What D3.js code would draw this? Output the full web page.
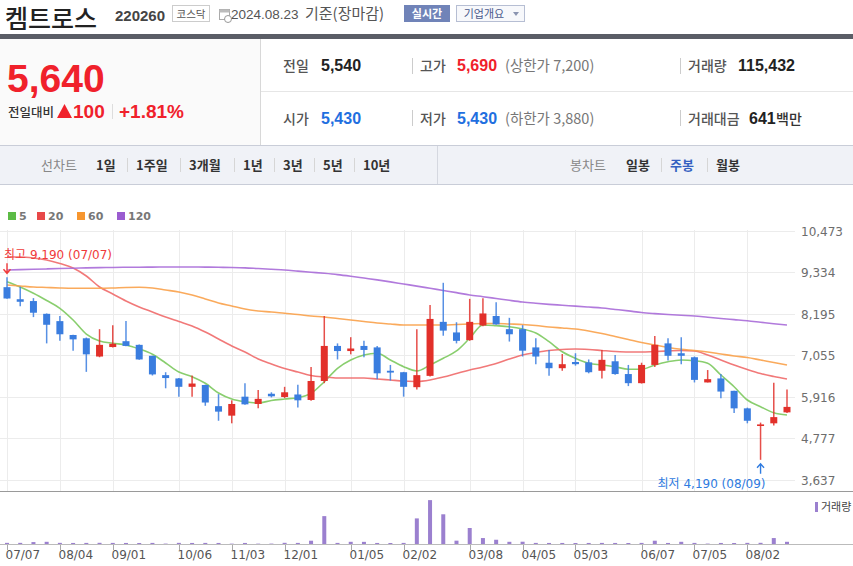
<!DOCTYPE html>
<html><head><meta charset="utf-8">
<script src="https://cdn.jsdelivr.net/npm/d3@7"></script>
<style>
body{margin:0;background:#fff;overflow:hidden}
svg{display:block}
</style>
</head><body>
<svg id="c" width="853" height="566"></svg>
<script>
// ---------- DATA ----------
const dates = ["2023-07-07","2023-07-14","2023-07-21","2023-07-28","2023-08-04","2023-08-11","2023-08-18","2023-08-25","2023-09-01","2023-09-08","2023-09-15","2023-09-22","2023-09-29","2023-10-06","2023-10-13","2023-10-20","2023-10-27","2023-11-03","2023-11-10","2023-11-17","2023-11-24","2023-12-01","2023-12-08","2023-12-15","2023-12-22","2023-12-29","2024-01-05","2024-01-12","2024-01-19","2024-01-26","2024-02-02","2024-02-09","2024-02-16","2024-02-23","2024-03-01","2024-03-08","2024-03-15","2024-03-22","2024-03-29","2024-04-05","2024-04-12","2024-04-19","2024-04-26","2024-05-03","2024-05-10","2024-05-17","2024-05-24","2024-05-31","2024-06-07","2024-06-14","2024-06-21","2024-06-28","2024-07-05","2024-07-12","2024-07-19","2024-07-26","2024-08-02","2024-08-09","2024-08-16","2024-08-23"];
const open  = [8920,8590,8540,8190,7990,7610,7520,7020,7280,7440,7340,7040,6510,6420,6190,6240,5660,5400,5920,5720,6000,5910,5980,5830,6350,7310,7170,7310,7270,6630,6590,6180,6490,7970,7680,7470,7870,8130,7770,7770,7270,6850,6700,6870,6860,6630,6890,6540,6290,6790,7380,7110,7000,6310,6420,6080,5600,5130,5190,5490];
const high  = [9190,8930,8620,8200,8130,7620,7540,7770,7880,7990,7350,7040,6590,6430,6500,6250,5990,5820,6290,6100,6040,6190,6250,6730,8130,7380,7550,7450,7310,6790,6600,7770,8430,9040,7960,8600,8620,8510,8080,7880,7520,7200,7090,7110,6940,7200,7060,6790,6850,7580,7520,7550,7020,6650,6540,6080,5620,5210,6300,6120];
const low   = [8600,8400,8100,7380,7450,7180,6600,7000,7270,7300,6930,6500,6150,5920,5920,5670,5260,5190,5700,5600,5900,5880,5620,5810,6290,6940,7080,7000,6400,6360,5920,6120,6470,7590,7380,7450,7850,7890,7430,7020,6810,6490,6630,6770,6560,6420,6520,6210,6280,6730,6910,6810,6310,6310,5880,5470,5190,4190,5130,5470];
const close = [8610,8520,8220,7890,7630,7490,7080,7340,7370,7310,6940,6530,6430,6190,6280,5760,5510,5720,5710,5860,5930,6040,5820,6350,7310,7170,7240,7200,6560,6580,6190,6510,8050,7730,7450,7970,8200,7900,7630,7180,7020,6700,6810,6810,6590,6930,6540,6290,6790,7340,7040,7040,6380,6400,6060,5600,5260,5160,5360,5640];
const volume = [250,250,420,480,250,230,240,260,240,230,220,240,90,250,230,240,230,80,230,80,90,260,240,720,6100,240,480,470,230,220,240,5600,9600,6500,730,3500,1300,930,480,500,240,230,230,220,230,240,230,220,240,720,230,480,240,90,230,220,250,260,1300,480];
const ma5   = [9070,8925,8753,8555,8342,8021,7637,7446,7383,7336,7226,7081,6843,6596,6467,6287,6021,5856,5782,5747,5815,5856,5892,6013,6330,6698,6925,7062,7109,6925,6741,6624,6788,6972,7172,7520,7884,7865,7837,7774,7665,7426,7152,6972,6835,6788,6741,6670,6670,6788,6878,6925,6906,6835,6514,6193,5829,5645,5481,5418];
const ma20  = [9747,9747,9720,9665,9569,9446,9227,8925,8733,8542,8377,8240,8103,7980,7857,7692,7500,7309,7144,6952,6815,6692,6596,6500,6459,6432,6432,6432,6404,6377,6350,6336,6377,6459,6555,6651,6733,6829,6952,7062,7130,7185,7213,7226,7213,7185,7158,7144,7144,7158,7172,7185,7172,7062,6925,6788,6665,6555,6473,6404];
const ma60  = [8980,8953,8925,8912,8898,8890,8890,8890,8898,8912,8917,8898,8843,8788,8706,8596,8487,8405,8322,8268,8240,8205,8172,8131,8103,8062,8021,7980,7939,7911,7884,7884,7884,7884,7898,7911,7925,7925,7911,7898,7870,7829,7802,7774,7720,7651,7569,7487,7405,7336,7268,7218,7185,7144,7089,7035,6994,6925,6857,6788];
const ma120 = [9390,9400,9410,9420,9430,9440,9450,9455,9460,9465,9468,9470,9472,9473,9472,9470,9465,9460,9450,9430,9410,9390,9360,9330,9300,9265,9220,9170,9120,9065,9007,8950,8890,8830,8770,8706,8660,8610,8560,8514,8480,8450,8425,8400,8375,8350,8310,8270,8225,8195,8170,8150,8131,8095,8060,8030,8000,7960,7920,7884];
const yTicks = [3637,4777,5916,7055,8195,9334,10473];
const xTicks = ["2023-07-07","2023-08-04","2023-09-01","2023-10-06","2023-11-03","2023-12-01","2024-01-05","2024-02-02","2024-03-08","2024-04-05","2024-05-03","2024-06-07","2024-07-05","2024-08-02"];
const maNames = ["5","20","60","120"];
const navLine = ["1일","1주일","3개월","1년","3년","5년","10년"];
const navCandle = ["일봉","주봉","월봉"];

// ---------- SETUP ----------
const svg = d3.select("#c");
const KR = "'Noto Sans CJK KR', sans-serif";
const NUM = "'Liberation Sans', Arial, sans-serif";
const AX = "'DejaVu Sans', 'Noto Sans CJK KR', sans-serif";
const RED = "#f0212b", BLUE = "#1f6fe0";

function txt(x, y, s, o = {}) {
  return svg.append("text").attr("x", x).attr("y", y).text(s)
    .attr("font-family", o.f || KR).attr("font-size", o.s || 13)
    .attr("font-weight", o.w || "normal").attr("fill", o.c || "#333")
    .attr("text-anchor", o.a || "start");
}

// ---------- HEADER ----------
txt(5, 28, "켐트로스", {s: 25, c: "#222", w: 500});
txt(115, 21, "220260", {f: NUM, s: 15, w: "bold", c: "#444"});
svg.append("rect").attr("x", 172.5).attr("y", 5.5).attr("width", 37).attr("height", 16).attr("fill", "#fff").attr("stroke", "#ccc");
txt(191, 18, "코스닥", {s: 10.5, c: "#555", a: "middle"});
// calendar icon
svg.append("rect").attr("x", 219.5).attr("y", 9.5).attr("width", 10).attr("height", 10).attr("fill", "#fff").attr("stroke", "#aaa");
svg.append("rect").attr("x", 219.5).attr("y", 9.5).attr("width", 10).attr("height", 3).attr("fill", "#bbb");
svg.append("circle").attr("cx", 228).attr("cy", 19).attr("r", 3.5).attr("fill", "#fff").attr("stroke", "#999");
txt(231, 19, "2024.08.23", {f: NUM, s: 13.5, c: "#555"});
txt(305, 19, "기준(장마감)", {s: 15, c: "#555"});
svg.append("rect").attr("x", 404).attr("y", 5).attr("width", 46).attr("height", 17).attr("fill", "#7083b8");
txt(427, 18, "실시간", {s: 11, c: "#fff", a: "middle", w: "bold"});
svg.append("rect").attr("x", 456.5).attr("y", 5.5).attr("width", 68).attr("height", 16).attr("fill", "#f7f8fb").attr("stroke", "#b6bed3");
txt(484, 18, "기업개요", {s: 11, c: "#4b5a8c", a: "middle"});
svg.append("path").attr("d", "M513,12 l6,0 l-3,4 z").attr("fill", "#8a94b0");

// dark bar
svg.append("rect").attr("x", 0).attr("y", 34).attr("width", 853).attr("height", 5).attr("fill", "#5a5d66");

// left panel
svg.append("rect").attr("x", 0).attr("y", 39).attr("width", 260).attr("height", 106).attr("fill", "#fafafa");
svg.append("line").attr("x1", 260.5).attr("x2", 260.5).attr("y1", 39).attr("y2", 145).attr("stroke", "#d8d8d8");
txt(7, 92, d3.format(",")(close[close.length - 1]), {f: NUM, s: 39, w: "bold", c: RED});
const chg = close[close.length - 1] - 5540;
txt(8, 117, "전일대비", {s: 12.5, c: "#333", w: 500});
svg.append("path").attr("d", "M57,118 L64.5,104 L72,118 Z").attr("fill", RED);
txt(73, 118, String(chg), {f: NUM, s: 19, w: "bold", c: RED});
svg.append("line").attr("x1", 112.5).attr("x2", 112.5).attr("y1", 104).attr("y2", 119).attr("stroke", "#ddd");
txt(119, 118, "+1.81%", {f: NUM, s: 19, w: "bold", c: RED});

// right info grid
svg.append("line").attr("x1", 261).attr("x2", 853).attr("y1", 91.5).attr("y2", 91.5).attr("stroke", "#e6e6e6");
[[412.5, 58], [680.5, 58], [412.5, 110], [680.5, 110]].forEach(([x, y]) =>
  svg.append("line").attr("x1", x).attr("x2", x).attr("y1", y).attr("y2", y + 16).attr("stroke", "#ccc"));
const r1 = 71, r2 = 124;
txt(283, r1, "전일", {s: 14, c: "#555", w: 500});
txt(321, r1, "5,540", {f: NUM, s: 16, w: "bold", c: "#222"});
txt(420, r1, "고가", {s: 14, c: "#555", w: 500});
txt(457, r1, "5,690", {f: NUM, s: 16, w: "bold", c: RED});
txt(505, r1, "(상한가 7,200)", {s: 14.5, c: "#777"});
txt(688, r1, "거래량", {s: 14, c: "#555", w: 500});
txt(738, r1, "115,432", {f: NUM, s: 16, w: "bold", c: "#222"});
txt(283, r2, "시가", {s: 14, c: "#555", w: 500});
txt(321, r2, "5,430", {f: NUM, s: 16, w: "bold", c: BLUE});
txt(420, r2, "저가", {s: 14, c: "#555", w: 500});
txt(457, r2, "5,430", {f: NUM, s: 16, w: "bold", c: BLUE});
txt(505, r2, "(하한가 3,880)", {s: 14.5, c: "#777"});
txt(688, r2, "거래대금", {s: 14, c: "#555", w: 500});
txt(749, r2, "641", {f: NUM, s: 16, w: "bold", c: "#222"});
txt(776, r2, "백만", {s: 14, c: "#333", w: 500});

// nav bar
svg.append("rect").attr("x", 0).attr("y", 145).attr("width", 853).attr("height", 39).attr("fill", "#f0f2f7");
svg.append("line").attr("x1", 0).attr("x2", 853).attr("y1", 145.5).attr("y2", 145.5).attr("stroke", "#c9cdd8");
svg.append("line").attr("x1", 0).attr("x2", 853).attr("y1", 184.5).attr("y2", 184.5).attr("stroke", "#c9cdd8");
svg.append("line").attr("x1", 437.5).attr("x2", 437.5).attr("y1", 146).attr("y2", 184).attr("stroke", "#d5d8e0");
txt(41, 170, "선차트", {s: 13, c: "#888"});
const navX = [96, 136, 189, 243, 283, 323, 363];
navLine.forEach((s, i) => {
  txt(navX[i], 170, s, {s: 13, w: "bold", c: "#333"});
  if (i > 0) svg.append("line").attr("x1", navX[i] - 8.5).attr("x2", navX[i] - 8.5).attr("y1", 158).attr("y2", 172).attr("stroke", "#d6d6d6");
});
txt(570, 170, "봉차트", {s: 13, c: "#888"});
const navCX = [626, 670, 716];
navCandle.forEach((s, i) => {
  txt(navCX[i], 170, s, {s: 13, w: "bold", c: i === 1 ? "#3461c1" : "#333"});
  if (i > 0) svg.append("line").attr("x1", navCX[i] - 8.5).attr("x2", navCX[i] - 8.5).attr("y1", 158).attr("y2", 172).attr("stroke", "#d6d6d6");
});

// ---------- CHART ----------
const maColors = ["#7cc95e", "#f06a6a", "#f9a14a", "#a86bd8"];
const legColors = ["#5cbb45", "#e84848", "#f7962e", "#9b5cd0"];
const legX = [8, 37, 77, 117];
maNames.forEach((n, i) => {
  svg.append("rect").attr("x", legX[i]).attr("y", 212).attr("width", 8).attr("height", 8).attr("fill", legColors[i]);
  txt(legX[i] + 11, 220, n, {f: AX, s: 11, w: "bold", c: "#777"});
});

const x = d3.scalePoint().domain(dates).range([7, 787]);
const y = d3.scaleLinear().domain([yTicks[0], yTicks[yTicks.length - 1]]).range([480, 230.5]);
const yv = d3.scaleLinear().domain([0, 10500]).range([544, 496]);

const grid = svg.append("g");
yTicks.forEach(t => {
  const yy = Math.round(y(t)) + 0.5;
  grid.append("line").attr("x1", 0).attr("x2", 795).attr("y1", yy).attr("y2", yy).attr("stroke", "#ececec");
  txt(801, yy + 4.5, d3.format(",")(t), {f: AX, s: 12, c: "#6d6d6d"});
});
xTicks.forEach(d => {
  const xx = Math.round(x(d)) + 0.5;
  grid.append("line").attr("x1", xx).attr("x2", xx).attr("y1", 230).attr("y2", 491).attr("stroke", "#ececec");
});

// MA lines
[ma5, ma20, ma60, ma120].forEach((arr, k) => {
  const line = d3.line().x((d, i) => x(dates[i])).y(d => y(d)).curve(d3.curveMonotoneX);
  svg.append("path").datum(arr).attr("d", line).attr("fill", "none")
    .attr("stroke", maColors[k]).attr("stroke-width", 1.6).attr("stroke-opacity", 0.9);
});

// candles
const cg = svg.append("g");
dates.forEach((d, i) => {
  const up = close[i] >= open[i];
  const col = up ? "#e2302a" : "#3a7ddf";
  const cx = x(d);
  cg.append("line").attr("x1", cx).attr("x2", cx).attr("y1", y(high[i])).attr("y2", y(low[i]))
    .attr("stroke", col).attr("stroke-width", 1.5).attr("stroke-opacity", 0.85);
  const top = y(Math.max(open[i], close[i])), bot = y(Math.min(open[i], close[i]));
  cg.append("rect").attr("x", cx - 3.5).attr("y", top).attr("width", 7).attr("height", Math.max(1.6, bot - top))
    .attr("fill", col);
});

// max / min annotations
const hiIdx = d3.maxIndex(high), loIdx = d3.minIndex(low);
const md = s => s.slice(5).replace("-", "/");
const hx = x(dates[hiIdx]), hy = y(high[hiIdx]);
txt(hx - 3, hy - 18, `최고 ${d3.format(",")(high[hiIdx])} (${md(dates[hiIdx])})`, {f: AX, s: 12, c: "#f03a3a"});
svg.append("path").attr("d", `M${hx},${hy - 14} V${hy - 4} M${hx - 3.5},${hy - 8} L${hx},${hy - 4} L${hx + 3.5},${hy - 8}`)
  .attr("fill", "none").attr("stroke", "#f03a3a").attr("stroke-width", 1.4);
const lx = x(dates[loIdx]), ly = y(low[loIdx]);
txt(lx + 5, ly + 28, `최저 ${d3.format(",")(low[loIdx])} (${md(dates[loIdx])})`, {f: AX, s: 12, c: "#2f7be0", a: "end"});
svg.append("path").attr("d", `M${lx},${ly + 14} V${ly + 4} M${lx - 3.5},${ly + 8} L${lx},${ly + 4} L${lx + 3.5},${ly + 8}`)
  .attr("fill", "none").attr("stroke", "#2f7be0").attr("stroke-width", 1.4);

// separator between panels
svg.append("line").attr("x1", 0).attr("x2", 853).attr("y1", 491.5).attr("y2", 491.5).attr("stroke", "#9a9a9a");

// volume
dates.forEach((d, i) => {
  svg.append("rect").attr("x", x(d) - 2).attr("y", yv(volume[i])).attr("width", 4)
    .attr("height", 544 - yv(volume[i])).attr("fill", "#9b80cf");
});
svg.append("line").attr("x1", 0).attr("x2", 853).attr("y1", 544.5).attr("y2", 544.5).attr("stroke", "#bbb");
svg.append("rect").attr("x", 815).attr("y", 502).attr("width", 3).attr("height", 10).attr("fill", "#9b80cf");
txt(821, 511, "거래량", {s: 11, c: "#444"});

// x axis
xTicks.forEach(d => {
  const xx = Math.round(x(d)) + 0.5;
  svg.append("line").attr("x1", xx).attr("x2", xx).attr("y1", 545).attr("y2", 550).attr("stroke", "#aaa");
  txt(xx - 2, 559, md(d), {f: AX, s: 12, c: "#555"});
});
</script>
</body></html>
